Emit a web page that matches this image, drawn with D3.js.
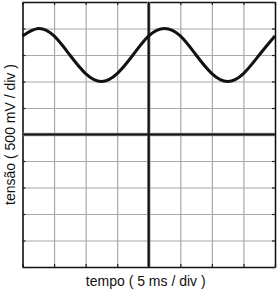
<!DOCTYPE html>
<html>
<head>
<meta charset="utf-8">
<script src="https://cdn.jsdelivr.net/npm/d3@7"></script>
<style>
    body { margin: 0; background: #fff; }
    text { font-family: "Liberation Sans", Arial, sans-serif; fill: #111; }
</style>
</head>
<body>
<div id="chart"></div>
<script>
// time in divisions, voltage in divisions
var timeDiv = [-4, -3.5, -3, -2.5, -2, -1.5, -1, -0.5, 0, 0.5, 1, 1.5, 2, 2.5, 3, 3.5, 4];
var voltDiv = [3.72, 4.0, 3.72, 3.0, 2.3, 2.0, 2.3, 3.0, 3.72, 4.0, 3.72, 3.0, 2.3, 2.0, 2.3, 3.0, 3.72];
var xTicks = [-4, -3, -2, -1, 0, 1, 2, 3, 4];
var yTicks = [-5, -4, -3, -2, -1, 0, 1, 2, 3, 4, 5];
var xLabel = "tempo ( 5 ms / div )";
var yLabel = "tensão ( 500 mV / div )";

var W = 278, H = 293,
    margin = {top: 2, right: 3, bottom: 26, left: 22.5},
    width = W - margin.left - margin.right,
    height = H - margin.top - margin.bottom;

var svg = d3.select("#chart").append("svg")
    .attr("width", W)
    .attr("height", H)
    .append("g")
    .attr("transform", "translate(" + margin.left + "," + margin.top + ")");

var x = d3.scaleLinear().domain([-4, 4]).range([0, width]);
var y = d3.scaleLinear().domain([-5, 5]).range([height, 0]);

// grid lines
svg.append("g")
    .attr("transform", "translate(0," + height + ")")
    .call(d3.axisBottom(x).tickValues(xTicks).tickSize(-height).tickFormat(""))
    .call(function (g) { g.select(".domain").remove(); })
    .selectAll("line").attr("stroke", "#a8a8a8").attr("stroke-width", 1.2);
svg.append("g")
    .call(d3.axisLeft(y).tickValues(yTicks).tickSize(-width).tickFormat(""))
    .call(function (g) { g.select(".domain").remove(); })
    .selectAll("line").attr("stroke", "#a8a8a8").attr("stroke-width", 1.2);

// small dark ticks on the frame
var tickLen = 3;
[
    [d3.axisBottom(x).tickValues(xTicks), "translate(0," + height + ")"],
    [d3.axisTop(x).tickValues(xTicks), null],
    [d3.axisLeft(y).tickValues(yTicks), null],
    [d3.axisRight(y).tickValues(yTicks), "translate(" + width + ",0)"]
].forEach(function (a) {
    var g = svg.append("g").attr("transform", a[1]);
    g.call(a[0].tickSize(-tickLen).tickSizeOuter(0).tickFormat(""));
    g.selectAll("line").attr("stroke", "#222").attr("stroke-width", 1.2);
    g.select(".domain").attr("stroke", "#111").attr("stroke-width", 1.5);
});

// centre axes (grey halo under a black line)
svg.append("line")
    .attr("x1", x(0)).attr("x2", x(0)).attr("y1", 0).attr("y2", height)
    .attr("stroke", "#999").attr("stroke-width", 3.5);
svg.append("line")
    .attr("x1", 0).attr("x2", width).attr("y1", y(0)).attr("y2", y(0))
    .attr("stroke", "#999").attr("stroke-width", 3.5);
svg.append("line")
    .attr("x1", x(0)).attr("x2", x(0)).attr("y1", 0).attr("y2", height)
    .attr("stroke", "#111").attr("stroke-width", 2);
svg.append("line")
    .attr("x1", 0).attr("x2", width).attr("y1", y(0)).attr("y2", y(0))
    .attr("stroke", "#111").attr("stroke-width", 2);

// the trace
var line = d3.line()
    .x(function (d, i) { return x(timeDiv[i]); })
    .y(function (d) { return y(d); })
    .curve(d3.curveNatural);

svg.append("path")
    .datum(voltDiv)
    .attr("fill", "none")
    .attr("stroke", "#111")
    .attr("stroke-width", 3)
    .attr("d", line);

// labels
svg.append("text")
    .attr("x", width / 2 - 3)
    .attr("y", height + 19)
    .attr("text-anchor", "middle")
    .style("font-size", "14px")
    .text(xLabel);

svg.append("text")
    .attr("transform", "translate(" + (-7.5) + "," + (height / 2) + ") rotate(-90)")
    .attr("text-anchor", "middle")
    .style("font-size", "14px")
    .text(yLabel);
</script>
</body>
</html>
